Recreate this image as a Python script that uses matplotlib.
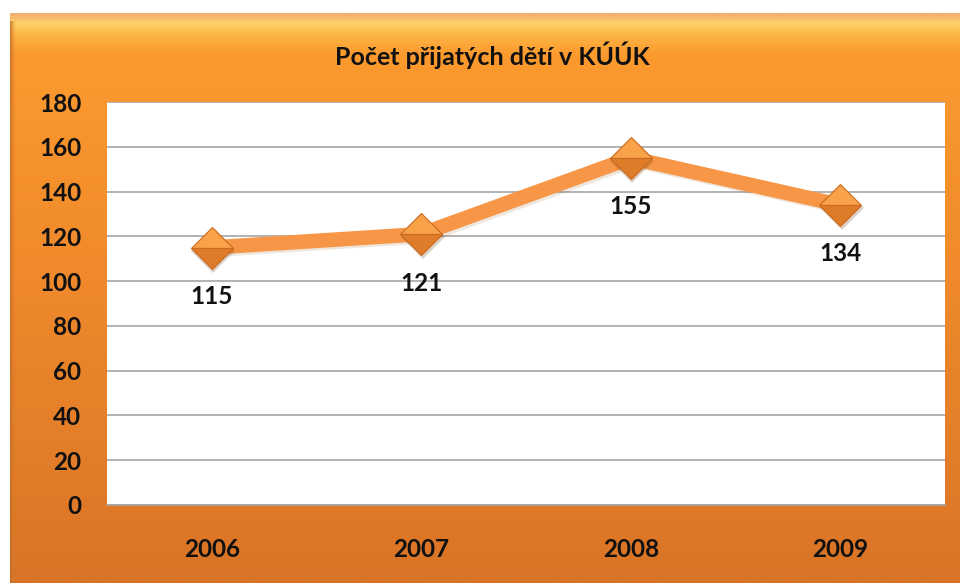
import numpy as np
import matplotlib
matplotlib.use("Agg")
import matplotlib.pyplot as plt
from matplotlib.colors import LinearSegmentedColormap

years = ["2006", "2007", "2008", "2009"]
values = [115, 121, 155, 134]
yticks = [0, 20, 40, 60, 80, 100, 120, 140, 160, 180]
title = "Počet přijatých dětí v KÚÚK"

plt.rcParams['font.family'] = ['Lato', 'DejaVu Sans']

W, H = 960, 583
fig = plt.figure(figsize=(W / 100, H / 100), dpi=100)
fig.patch.set_facecolor("white")

# frame background with vertical gradient
fx0, fy1 = 10 / W, 1 - 13 / H
bg = fig.add_axes([fx0, 0, 1 - fx0, fy1])
bg.set_axis_off()
grad_cmap = LinearSegmentedColormap.from_list(
    "g", [(0.0, "#DA7426"), (0.55, "#F08A2C"), (0.93, "#FC9A2E"), (0.965, "#FDB545"), (0.985, "#FFD36A"), (1.0, "#F3B070")])
grad = np.linspace(0, 1, 400).reshape(-1, 1)
bg.imshow(grad, aspect="auto", cmap=grad_cmap, origin="lower", extent=[0, 1, 0, 1])
# left edge shading
edge = np.linspace(0, 1, 20).reshape(1, -1)
bg.imshow(edge, aspect="auto", cmap=LinearSegmentedColormap.from_list("e", [(0, (0.75, 0.42, 0.15, 0.8)), (1, (0.9, 0.5, 0.15, 0.0))]),
          extent=[0, 6 / (W - 10), 0, 0.985], zorder=2)
bg.set_xlim(0, 1)
bg.set_ylim(0, 1)

# plot area
ax = fig.add_axes([107 / W, 1 - 505 / H, (945 - 107) / W, (505 - 102) / H])
ax.set_facecolor("white")
x = np.arange(len(years))
ax.set_xlim(-0.5, len(years) - 0.5)
ax.set_ylim(0, 180)
ax.set_yticks(yticks)
ax.set_xticks(x)
ax.set_xticklabels(years)
ax.grid(axis="y", color="#A6A6A6", linewidth=1.2)
ax.set_axisbelow(True)
for s in ["left", "right", "top"]:
    ax.spines[s].set_visible(False)
ax.spines["bottom"].set_color("#A6A6A6")
ax.spines["bottom"].set_linewidth(1.2)
ax.tick_params(axis="both", length=0, labelsize=17.5)
ax.tick_params(axis="y", pad=18.5)
ax.tick_params(axis="x", pad=24)
for lab in ax.get_xticklabels() + ax.get_yticklabels():
    lab.set_fontweight("bold")
    lab.set_color("#111111")

# shadow
ax.plot(x + 0.012, np.array(values) - 1.0, color="#9a5a20", alpha=0.15, linewidth=10.5, solid_capstyle="butt", zorder=2)
ax.plot(x, values, color="#F79646", linewidth=10.5, solid_capstyle="butt", zorder=3)
ax.plot(x + 0.008, np.array(values) - 1.5, linestyle="none", marker="D", markersize=22,
        markerfacecolor="#7a4a1a", markeredgewidth=0, alpha=0.25, zorder=4)
ax.plot(x, values, linestyle="none", marker="D", markersize=21, fillstyle="top",
        markerfacecolor="#F9A24A", markerfacecoloralt="#DE7C2A", markeredgecolor="#C96A1E",
        markeredgewidth=0.8, zorder=5)

for xi, v in zip(x, values):
    ax.annotate(str(v), (xi, v), xytext=(0, -49), textcoords="offset pixels",
                ha="center", va="center", fontsize=17.5, fontweight="bold", color="#111111", zorder=6)

fig.text(492 / W, 1 - 55 / H, title, ha="center", va="center", fontsize=18, fontweight="bold", color="#111111")

fig.savefig("out.png", dpi=100, facecolor=fig.get_facecolor())
